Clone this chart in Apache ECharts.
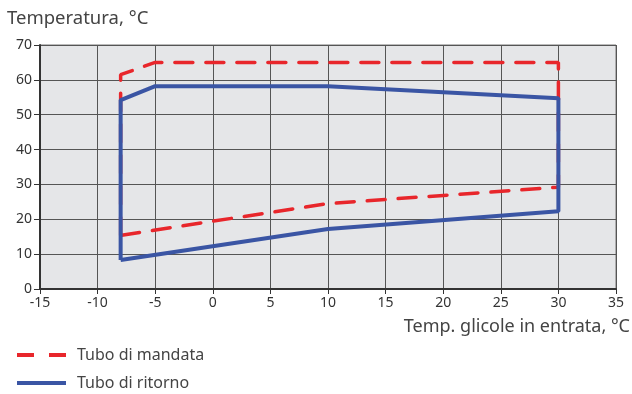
<!DOCTYPE html>
<html><head><meta charset="utf-8">
<script src="https://cdn.jsdelivr.net/npm/echarts@6/dist/echarts.min.js"></script>
<style>html,body{margin:0;padding:0;background:#fff}#c{width:632px;height:394px}</style>
</head><body><div id="c"></div>
<script>
var mandataX = [-8, -8, -5, 30, 30, 10, -8];
var mandataY = [15.4, 61.5, 65, 65, 29.2, 24.5, 15.4];
var ritornoX = [-8, -8, -5, 10, 30, 30, 10, -8];
var ritornoY = [8.3, 54.2, 58.2, 58.2, 54.7, 22.3, 17.2, 8.3];
var seriesNames = ['Tubo di mandata', 'Tubo di ritorno'];
var yTitle = 'Temperatura, °C';
var xTitle = 'Temp. glicole in entrata, °C';

function pairs(xs, ys){ return xs.map(function(x,i){ return [x, ys[i]]; }); }
var FONT = 'Noto Sans';
var chart = echarts.init(document.getElementById('c'), null, {renderer:'canvas'});
chart.setOption({
  animation:false,
  textStyle:{fontFamily:FONT},
  graphic:[
    {type:'text', left:7, top:9, style:{text:yTitle, font:'18.5px "Noto Sans"', fill:'#444'}},
    {type:'text', right:2, top:318, style:{text:xTitle, font:'18px "Noto Sans"', fill:'#444'}}
  ],
  grid:{left:40, right:16, top:45, bottom:105, show:true, backgroundColor:'#e5e6e8', borderColor:'#777', borderWidth:1},
  legend:{orient:'vertical', left:17, top:347, padding:0, itemWidth:49, itemHeight:4, itemGap:12,
    textStyle:{fontFamily:FONT, fontSize:16, color:'#444', lineHeight:16, padding:[0,0,0,6]},
    data:[
      {name:seriesNames[0], icon:'path://M0,0H17V4H0Z M32,0H49V4H32Z'},
      {name:seriesNames[1], icon:'path://M0,0H49V4H0Z'}
    ]},
  xAxis:{type:'value', min:-15, max:35, interval:5,
    axisLine:{show:true, onZero:false, lineStyle:{color:'#333', width:2}},
    axisTick:{show:true, length:5, lineStyle:{color:'#333'}},
    axisLabel:{fontFamily:FONT, fontSize:14, color:'#333', margin:7},
    splitLine:{show:true, lineStyle:{color:'#555', width:1}}},
  yAxis:{type:'value', min:0, max:70, interval:10,
    axisLine:{show:true, onZero:false, lineStyle:{color:'#333', width:2}},
    axisTick:{show:true, length:6, lineStyle:{color:'#333'}},
    axisLabel:{fontFamily:FONT, fontSize:14, color:'#333', margin:8},
    splitLine:{show:true, lineStyle:{color:'#555', width:1}}},
  series:[
    {name:seriesNames[0], type:'line', symbol:'none', data:pairs(mandataX, mandataY),
      lineStyle:{color:'#e8262b', width:3.5, type:[18,13], cap:'round'}, itemStyle:{color:'#e8262b'}},
    {name:seriesNames[1], type:'line', symbol:'none', data:pairs(ritornoX, ritornoY),
      lineStyle:{color:'#3a55a4', width:4}, itemStyle:{color:'#3a55a4'}}
  ]
});
</script></body></html>
